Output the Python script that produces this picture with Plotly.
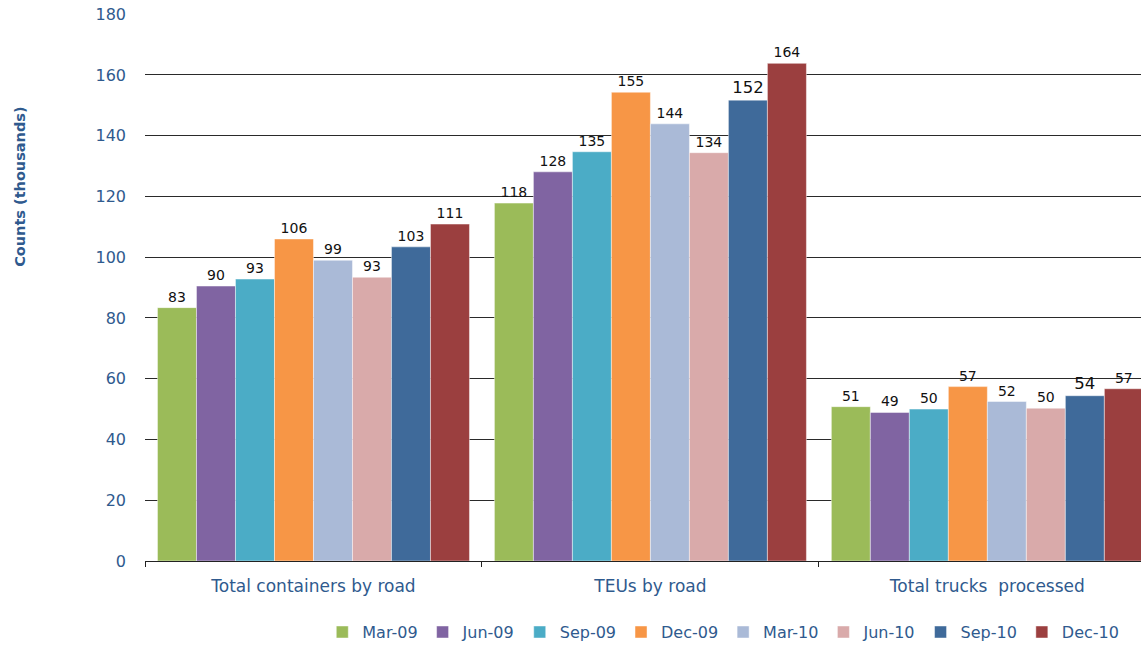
import plotly.graph_objects as go

categories = ["Total containers by road", "TEUs by road", "Total trucks  processed"]
series_names = ["Mar-09", "Jun-09", "Sep-09", "Dec-09", "Mar-10", "Jun-10", "Sep-10", "Dec-10"]
colors = ["#9BBB59", "#8064A2", "#4BACC6", "#F79646", "#AABAD7", "#D9AAAA", "#3F6A9A", "#9B3F3F"]

mar09 = [83.4, 117.8, 50.8]
jun09 = [90.5, 128.1, 48.9]
sep09 = [92.8, 134.7, 50.0]
dec09 = [106.0, 154.3, 57.4]
mar10 = [99.0, 143.9, 52.5]
jun10 = [93.4, 134.4, 50.3]
sep10 = [103.4, 151.7, 54.4]
dec10 = [110.9, 163.8, 56.7]

labels = {
    "Mar-09": ["83", "118", "51"],
    "Jun-09": ["90", "128", "49"],
    "Sep-09": ["93", "135", "50"],
    "Dec-09": ["106", "155", "57"],
    "Mar-10": ["99", "144", "52"],
    "Jun-10": ["93", "134", "50"],
    "Sep-10": ["103", "152", "54"],
    "Dec-10": ["111", "164", "57"],
}
series_values = [mar09, jun09, sep09, dec09, mar10, jun10, sep10, dec10]

FONT = "Verdana, DejaVu Sans, sans-serif"
BLUE = "#2F5A8E"

fig = go.Figure()
for name, vals, col in zip(series_names, series_values, colors):
    sizes = [14, 14, 14]
    if name == "Sep-10":
        sizes = [14, 16.5, 16.5]
    fig.add_trace(go.Bar(
        name=name, x=categories, y=vals,
        marker=dict(color=col, line=dict(color="rgba(255,255,255,0.45)", width=1)),
        text=labels[name], textposition="outside",
        textfont=dict(family=FONT, size=sizes, color="#111111"),
        cliponaxis=False,
    ))

fig.update_layout(
    width=1141, height=646,
    margin=dict(l=145, r=0, t=14, b=85, autoexpand=False),
    barmode="group", bargap=0.074, bargroupgap=0,
    plot_bgcolor="white", paper_bgcolor="white",
    font=dict(family=FONT, color=BLUE, size=16),
    legend=dict(orientation="h", x=0.178, xanchor="left", y=-0.13, yanchor="middle",
                font=dict(family=FONT, size=16, color=BLUE), traceorder="normal"),
    xaxis=dict(
        range=[-0.5, 2.456], showgrid=False, showline=True, linecolor="#222222", linewidth=1,
        ticks="outside", tickson="boundaries", ticklen=5, tickcolor="#222222",
        ticklabelstandoff=10,
        tickfont=dict(family=FONT, size=17, color=BLUE),
    ),
    yaxis=dict(
        range=[0, 180.05], dtick=20, showgrid=True, gridcolor="#2a2a2a", gridwidth=1,
        zeroline=False, showline=False, ticks="", ticklabelstandoff=18,
        tickfont=dict(family=FONT, size=16, color=BLUE),
    ),
    annotations=[dict(
        text="<b>Counts (thousands)</b>", textangle=-90, xref="paper", yref="paper",
        x=-0.1255, y=0.684, xanchor="center", yanchor="middle", showarrow=False,
        font=dict(family=FONT, size=14.5, color=BLUE),
    )],
)

fig.write_html("out.html")
